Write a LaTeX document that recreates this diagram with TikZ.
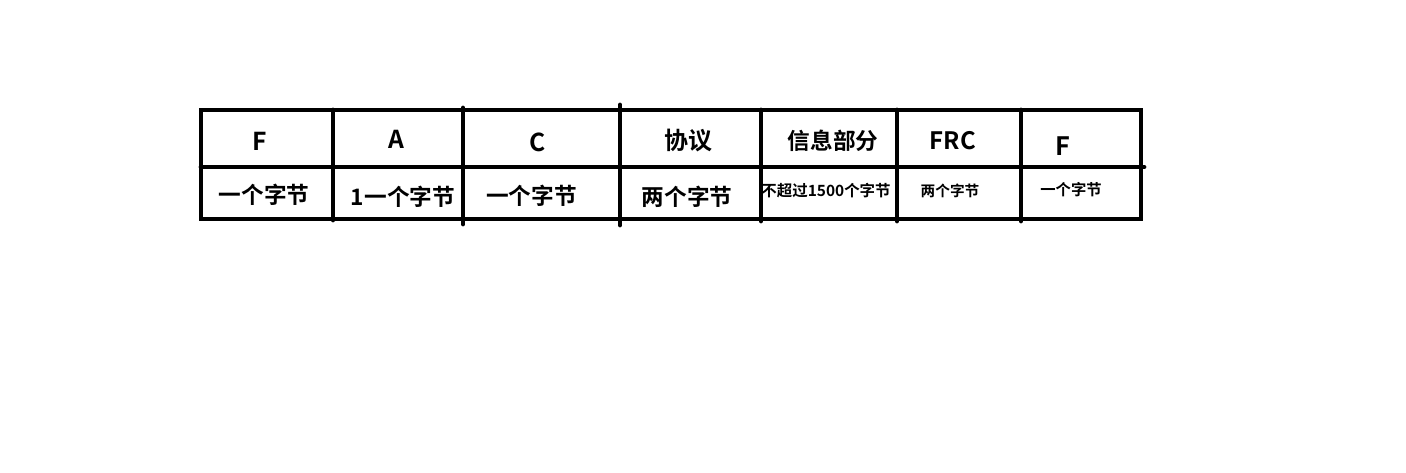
\documentclass[tikz,border=0pt]{standalone}
\usepackage{fontspec}
\newfontfamily\cjk{Noto Sans CJK SC Bold}
\begin{document}
\begin{tikzpicture}
  [x=0.75pt,y=-0.75pt,every node/.style={inner sep=0pt,font=\cjk},
   rule/.style={line width=3.6pt,line cap=round}]
  \useasboundingbox (0,0) rectangle (1406,473);
  % frame and grid
  \draw[rule] (201,110) rectangle (1141,219);
  \draw[rule] (201,167) -- (1144,167);
  \foreach \x/\a/\b in {333/110/220,463/108/224,620/105/225,761/110/221,897/110/221,1021/110/221}
    \draw[rule] (\x,\a) -- (\x,\b);
  % upper row
  \node (f1)[font=\cjk\fontsize{18.5}{19}\selectfont] at (260,141.5) {F};
  \node (a)[font=\cjk\fontsize{18.5}{19}\selectfont] at (396,139.5) {A};
  \node (c)[font=\cjk\fontsize{18.5}{19}\selectfont] at (538,142) {C};
  \node (proto)[font=\cjk\fontsize{18}{19}\selectfont] at (688,141) {协议};
  \node (info)[font=\cjk\fontsize{17}{18}\selectfont] at (833,141) {信息部分};
  \node (frc)[font=\cjk\fontsize{18}{19}\selectfont] at (953,140.5) {FRC};
  \node (f2)[font=\cjk\fontsize{19}{20}\selectfont] at (1063,146) {F};
  % lower row
  \node (f1len)[font=\cjk\fontsize{17}{18}\selectfont] at (264,195) {一个字节};
  \node (alen)[font=\cjk\fontsize{17}{18}\selectfont] at (403,197) {1一个字节};
  \node (clen)[font=\cjk\fontsize{17}{18}\selectfont] at (531.5,196) {一个字节};
  \node (protolen)[font=\cjk\fontsize{17}{18}\selectfont] at (687,197) {两个字节};
  \node (infolen)[font=\cjk\fontsize{11.6}{12}\selectfont] at (826,191) {不超过1500个字节};
  \node (frclen)[font=\cjk\fontsize{11}{12}\selectfont] at (950,191) {两个字节};
  \node (f2len)[font=\cjk\fontsize{11.5}{12}\selectfont] at (1071,190) {一个字节};
\end{tikzpicture}
\end{document}
